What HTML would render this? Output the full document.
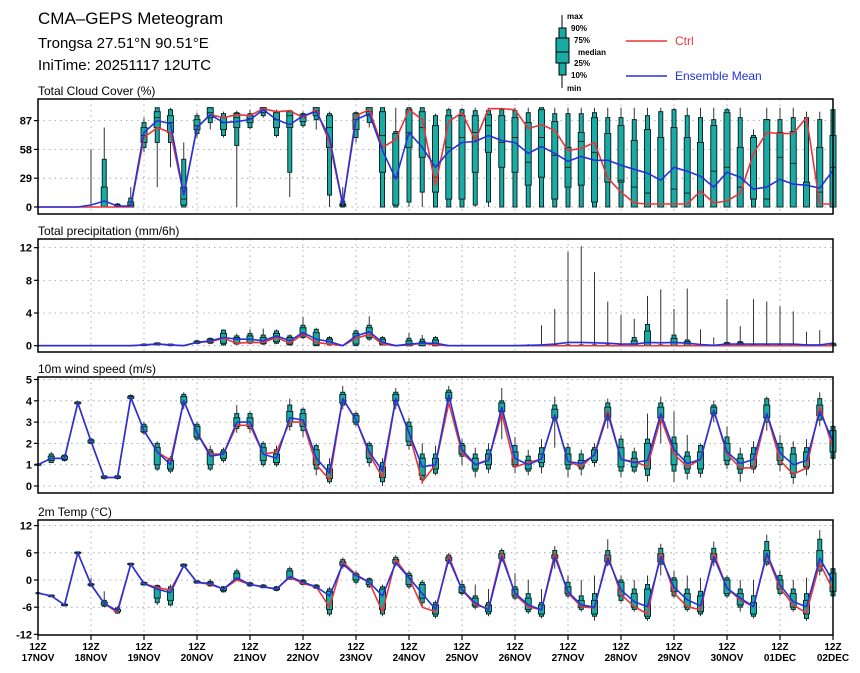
<!DOCTYPE html>
<html><head><meta charset="utf-8"><style>
html,body{margin:0;padding:0;background:#fff;}
svg{display:block;font-family:"Liberation Sans",sans-serif;}
</style></head><body>
<svg id="chart" width="860" height="673" viewBox="0 0 860 673" xmlns="http://www.w3.org/2000/svg">
<text x="38" y="24" font-size="17">CMA‒GEPS Meteogram</text>
<text x="38" y="48" font-size="15">Trongsa 27.51°N 90.51°E</text>
<text x="38" y="70" font-size="15">IniTime: 20251117 12UTC</text>
<g id="legend">
<line x1="562" y1="15" x2="562" y2="88" stroke="#000" stroke-width="1"/>
<rect x="559" y="28" width="7" height="47" fill="#1aaba5" stroke="#000" stroke-width="1"/>
<rect x="556" y="38" width="13" height="25" fill="#1aaba5" stroke="#000" stroke-width="1"/>
<line x1="556" y1="52" x2="569" y2="52" stroke="#000"/>
<g font-size="8" font-weight="bold">
<text x="567" y="19">max</text><text x="571" y="31">90%</text><text x="574" y="43">75%</text>
<text x="578" y="55">median</text><text x="574" y="66">25%</text><text x="571" y="78">10%</text><text x="567" y="91">min</text>
</g>
<line x1="626" y1="41" x2="667" y2="41" stroke="#e8363a" stroke-width="1.5"/>
<text x="675" y="45" font-size="12" fill="#e8363a">Ctrl</text>
<line x1="626" y1="76" x2="667" y2="76" stroke="#2233dd" stroke-width="1.5"/>
<text x="675" y="80" font-size="12" fill="#2233dd">Ensemble Mean</text>
</g>
</svg>
<script>
const days = ["17NOV","18NOV","19NOV","20NOV","21NOV","22NOV","23NOV","24NOV","25NOV","26NOV","27NOV","28NOV","29NOV","30NOV","01DEC","02DEC"];

const cloudMean = [0,0,0,0,2,6,1,1,75,87,84,12,80,93,85,86,88,98,88,83,92,96,70,2,88,94,57,28,75,60,40,56,65,66,72,67,65,54,61,54,46,51,47,47,42,38,34,27,40,36,31,20,35,30,18,20,28,23,22,19,37];
const cloudCtrl = [0,0,0,0,0,0,0,0,70,80,75,12,80,93,90,93,92,99,96,97,90,98,65,2,92,98,60,68,98,88,22,86,95,67,99,99,98,79,83,77,57,59,65,29,15,4,3,3,3,3,16,4,6,14,54,75,74,74,90,3,3];
const cloudMin = [0,0,0,0,0,0,0,0,55,20,40,0,70,78,70,0,78,90,70,10,80,78,0,0,65,80,0,0,0,0,0,0,0,0,0,0,0,0,0,0,0,0,0,0,0,0,0,0,0,0,0,0,0,0,0,0,0,0,0,0,0];
const cloudP10 = [0,0,0,0,0,0,0,0,60,65,65,0,74,85,72,62,80,92,72,35,82,88,12,0,70,85,0,0,5,15,0,0,0,2,5,0,0,0,0,0,0,0,0,0,0,0,0,0,0,0,0,0,0,0,0,0,0,0,0,0,0];
const cloudP25 = [0,0,0,0,0,0,0,0,65,80,75,2,78,90,78,80,85,95,80,80,86,92,60,1,78,92,35,2,60,50,15,8,8,35,55,40,35,22,30,8,20,22,5,25,25,0,0,0,0,0,0,0,0,0,8,0,0,0,0,0,0];
const cloudMed = [0,0,0,0,0,0,1,2,72,90,85,8,82,95,85,90,89,98,88,92,90,97,80,2,88,96,72,30,75,80,30,60,70,75,82,65,70,45,70,52,40,66,55,47,27,20,14,3,18,14,0,36,40,20,8,8,50,44,0,15,40];
const cloudP75 = [0,0,0,0,0,20,2,5,80,96,92,20,88,100,90,94,92,100,95,96,93,100,92,3,94,100,96,74,98,96,82,92,92,92,93,92,90,85,98,86,60,75,90,74,82,67,78,70,80,70,65,82,95,60,70,88,75,76,25,60,72];
const cloudP90 = [0,0,0,0,0,48,3,9,85,100,98,48,92,100,94,95,94,100,96,97,94,100,94,6,95,100,100,76,100,100,92,98,98,97,97,98,97,95,100,94,94,94,95,90,90,88,92,96,98,92,90,88,98,90,72,88,88,90,90,88,98];
const cloudMax = [0,0,0,0,58,80,4,20,90,100,100,65,95,100,96,97,98,100,98,98,96,100,96,20,96,100,100,100,100,100,94,100,100,100,100,100,100,100,100,100,100,100,100,100,100,100,100,100,100,100,100,100,100,100,78,100,100,100,96,96,100];

const precipMean = [0,0,0,0,0,0,0,0,0.1,0.2,0.1,0,0.4,0.6,1.0,0.8,0.8,0.6,1.2,0.6,1.6,0.8,0.5,0,1.2,1.7,0.4,0,0.2,0.3,0.3,0,0,0,0,0,0,0.05,0.1,0.2,0.4,0.4,0.35,0.3,0.2,0.2,0.4,0.35,0.4,0.3,0.15,0.05,0.2,0.2,0.2,0.2,0.2,0.2,0.1,0.1,0.3];
const precipCtrl = [0,0,0,0,0,0,0,0,0.1,0.2,0.1,0,0.4,0.5,0.9,0.3,0.4,0.4,1.0,0.3,1.4,0.4,0.2,0,0.9,1.4,0.2,0,0.1,0.3,0.1,0,0,0,0,0,0,0,0,0,0,0,0,0,0,0,0,0,0,0,0,0,0,0,0,0,0,0,0,0,0];
const precipMin = [0,0,0,0,0,0,0,0,0,0,0,0,0.2,0.2,0,0.1,0.2,0.1,0.2,0,0.8,0,0,0,0,0.6,0,0,0,0,0,0,0,0,0,0,0,0,0,0,0,0,0,0,0,0,0,0,0,0,0,0,0,0,0,0,0,0,0,0,0];
const precipP10 = [0,0,0,0,0,0,0,0,0,0.1,0,0,0.3,0.3,0.1,0.2,0.3,0.2,0.3,0.1,1.0,0,0.1,0,0,0.8,0.1,0,0,0,0,0,0,0,0,0,0,0,0,0,0,0,0,0,0,0,0,0,0,0,0,0,0,0,0,0,0,0,0,0,0];
const precipP25 = [0,0,0,0,0,0,0,0,0.05,0.15,0.05,0,0.3,0.4,0.3,0.3,0.4,0.3,0.5,0.2,1.2,0.1,0.2,0,0.2,1.0,0.2,0,0,0,0,0,0,0,0,0,0,0,0,0,0,0,0,0,0,0,0,0,0,0,0,0,0,0,0,0,0,0,0,0,0];
const precipP75 = [0,0,0,0,0,0,0,0,0.15,0.3,0.15,0,0.5,0.8,1.5,1.0,1.2,1.0,1.5,1.0,2.2,1.6,0.8,0,1.5,2.2,0.8,0,0.6,0.5,0.7,0,0,0,0,0,0,0,0.05,0.05,0.05,0.05,0.05,0.05,0.05,0.6,1.8,0.05,0.9,0.5,0.05,0,0.3,0.35,0.05,0.05,0.05,0.15,0.05,0.05,0.2];
const precipP90 = [0,0,0,0,0,0,0,0,0.2,0.35,0.2,0,0.6,0.9,1.9,1.2,1.5,1.3,1.8,1.2,2.5,2.0,1.0,0,1.8,2.5,1.0,0,0.9,0.8,1.0,0,0,0,0,0,0,0,0.1,0.1,0.1,0.1,0.1,0.1,0.1,1.0,2.6,0.1,1.3,0.7,0.1,0,0.4,0.5,0.1,0.1,0.1,0.2,0.1,0.1,0.3];
const precipMax = [0,0,0,0,0,0,0,0,0.3,0.4,0.2,0,0.7,1.0,2.0,1.5,2.0,2.1,2.0,1.4,3.5,2.2,1.2,0,2.0,3.6,1.2,0,1.6,1.3,1.2,0,0,0,0,0,0,0.2,2.5,4.5,11.5,12.2,9.0,5.4,3.8,3.3,6.1,6.9,4.5,7.0,2.0,1.0,5.7,2.4,5.7,5.4,4.8,4.2,1.7,1.9,1.0];

const windMean = [1.0,1.3,1.3,3.9,2.1,0.4,0.4,4.15,2.6,1.6,1.0,4.0,2.5,1.4,1.5,3.0,3.0,1.5,1.3,3.2,3.1,1.3,0.6,4.1,3.1,1.6,0.7,4.1,2.5,0.9,1.0,4.27,1.7,1.0,1.2,3.7,1.3,1.0,1.27,3.33,1.15,1.05,1.45,3.4,1.25,1.1,1.2,3.4,1.7,1.05,1.25,3.55,1.6,1.05,1.25,3.4,1.55,1.0,1.2,3.5,2.1];
const windCtrl = [1.0,1.3,1.3,3.9,2.1,0.4,0.4,4.15,2.6,1.6,1.2,4.0,2.5,1.5,1.5,2.85,2.85,1.5,1.6,3.0,3.0,1.0,0.3,4.1,3.1,1.5,0.4,4.1,2.5,0.2,1.0,3.9,1.55,1.0,1.25,3.4,0.9,1.1,1.27,3.33,1.15,0.9,1.5,3.55,1.25,1.15,0.9,3.2,1.5,0.9,1.25,3.55,1.5,0.85,0.85,3.4,1.2,0.55,0.85,3.7,1.8];
const windMin = [0.95,1.1,1.15,3.8,2.0,0.3,0.3,4.05,2.4,0.7,0.6,3.6,2.1,0.7,1.1,2.5,2.5,0.9,0.9,2.6,2.3,0.5,0.1,3.6,2.8,0.9,0.0,3.6,1.7,0.1,0.5,3.8,1.0,0.4,0.6,2.2,0.6,0.5,0.6,1.8,0.4,0.5,0.9,2.7,0.4,0.6,0.2,2.0,0.2,0.3,0.4,3.0,0.8,0.2,0.6,2.6,0.7,0.1,0.5,2.8,0.9];
const windP10 = [0.97,1.1,1.2,3.85,2.0,0.35,0.35,4.1,2.5,0.8,0.7,3.8,2.2,0.8,1.2,2.7,2.7,1.0,1.0,2.8,2.6,0.8,0.2,3.8,2.9,1.1,0.2,3.8,1.9,0.3,0.6,4.0,1.4,0.7,0.8,3.2,0.9,0.7,0.9,3.1,0.8,0.8,1.1,3.1,0.7,0.7,0.5,3.0,0.7,0.6,0.6,3.3,1.0,0.6,0.8,3.0,1.0,0.4,0.8,3.1,1.3];
const windP25 = [0.98,1.2,1.25,3.87,2.05,0.38,0.38,4.12,2.55,1.0,0.8,3.9,2.3,1.0,1.3,2.8,2.8,1.2,1.1,3.0,2.8,1.0,0.35,3.9,3.0,1.3,0.4,4.0,2.1,0.5,0.8,4.1,1.5,0.8,1.0,3.5,1.0,0.8,1.1,3.2,1.0,0.9,1.2,3.2,0.9,0.9,0.8,3.2,1.0,0.8,0.8,3.4,1.2,0.8,0.9,3.2,1.2,0.6,0.9,3.3,1.6];
const windP75 = [1.02,1.4,1.4,3.93,2.15,0.45,0.45,4.2,2.8,1.8,1.2,4.2,2.8,1.6,1.6,3.2,3.2,1.8,1.5,3.5,3.4,1.7,0.8,4.3,3.3,1.9,0.9,4.3,2.8,1.3,1.3,4.4,1.9,1.3,1.5,3.9,1.6,1.2,1.5,3.6,1.5,1.2,1.7,3.7,1.8,1.3,2.0,3.7,2.0,1.4,1.6,3.7,2.0,1.3,1.5,3.8,1.8,1.5,1.6,3.8,2.6];
const windP90 = [1.03,1.5,1.45,3.95,2.2,0.48,0.48,4.25,2.9,2.0,1.3,4.3,2.9,1.7,1.7,3.4,3.4,2.0,1.7,3.8,3.6,1.9,1.0,4.4,3.4,2.0,1.1,4.4,3.0,1.5,1.5,4.5,2.0,1.5,1.7,4.0,1.9,1.4,1.8,3.8,1.8,1.5,1.8,3.9,2.2,1.6,2.2,3.9,2.3,1.6,1.9,3.8,2.3,1.5,1.8,4.1,2.0,1.8,1.8,4.1,2.8];
const windMax = [1.05,1.6,1.5,4.0,2.25,0.5,0.5,4.3,3.0,2.1,1.4,4.4,3.0,1.9,1.8,3.8,3.5,2.1,1.9,4.1,3.7,2.0,1.3,4.7,3.5,2.1,1.3,4.6,3.2,2.0,1.9,4.7,2.2,1.8,2.0,4.6,2.3,1.7,2.2,4.2,2.0,1.7,2.0,4.1,2.4,1.8,3.4,4.2,3.5,2.4,2.0,4.0,2.8,1.8,2.1,4.2,2.4,2.1,2.2,4.4,2.9];

const tempMean = [-2.9,-3.5,-5.5,6,-1,-5.2,-6.8,3.5,-0.8,-2,-2.8,3.2,-0.5,-0.8,-2,0.5,-1,-1.5,-2,0.8,-0.5,-1.5,-3.5,3.5,1,-0.5,-3.5,3.8,0.5,-3,-6.5,4.6,-2.1,-5.1,-6.6,5.1,-2.9,-5.5,-6.6,5.1,-2.6,-5.5,-6,4.8,-2.2,-4.8,-5.9,5.1,-1.6,-4.4,-5.7,5.1,-1.8,-4,-5.9,5.9,-1.1,-4.8,-5.9,4.8,-0.4];
const tempCtrl = [-2.9,-3.5,-5.5,6,-1,-5.2,-7.2,3.5,-0.8,-1.7,-2.2,3.2,-0.5,-1,-2,0,-1,-1.5,-2,0.6,-0.8,-1.5,-6,4,1.2,-0.5,-7,4.5,0.5,-6,-7,5.3,-2.2,-5.5,-6.3,5.9,-3.2,-5.9,-6.6,5.9,-2.9,-5.9,-6.2,5.5,-3.2,-5.9,-7.5,5.9,-2.9,-5.9,-6.6,5.9,-1.8,-4.4,-5.9,5.5,-1.8,-5.5,-7.3,3.7,-2.2];
const tempMin = [-3.1,-3.8,-5.8,5.7,-1.5,-6,-7.5,3.2,-1.2,-5.5,-5.8,2.9,-0.8,-1.5,-2.8,-0.2,-1.5,-1.8,-2.5,0,-1.2,-2,-8,2.5,-1,-1.8,-8,3,-2,-6,-8.5,3.5,-3.5,-6.5,-8,4,-4.5,-7.5,-8.5,2.5,-4,-7,-9,3,-5,-7,-9,1,-4,-7,-8,3,-4,-7,-8.5,3,-3.5,-7,-9,1,-4];
const tempP10 = [-3,-3.7,-5.7,5.8,-1.3,-5.8,-7.3,3.3,-1.1,-5,-5.5,3,-0.7,-1.3,-2.6,0,-1.3,-1.7,-2.3,0.2,-1,-1.8,-7.5,3,-0.5,-1.5,-7.5,3.5,-1.5,-5,-8,4,-3,-6,-7.5,4.5,-4,-7,-8,4.5,-3.5,-6.5,-8,3.5,-4.5,-6.5,-8.5,3.5,-3.5,-6.5,-7.5,4,-3.5,-6,-8,3.5,-3,-6.5,-8.5,2,-3.5];
const tempP25 = [-2.95,-3.6,-5.6,5.9,-1.1,-5.5,-7,3.4,-1,-4,-4.5,3.1,-0.6,-1.1,-2.3,0.2,-1.1,-1.6,-2.1,0.4,-0.8,-1.6,-6.5,3.3,0,-1,-6.5,3.7,-1,-4,-7.5,4.3,-2.8,-5.7,-7,4.8,-3.5,-6.5,-7.5,4.8,-3,-6,-7.5,4,-3.5,-6,-8,4,-2.5,-6,-7,4.5,-3,-5.5,-7.5,4,-2,-6,-7.5,3,-2.5];
const tempP75 = [-2.85,-3.4,-5.4,6.1,-0.9,-4.9,-6.5,3.6,-0.6,-1.5,-2,3.4,-0.3,-0.5,-1.7,1.5,-0.8,-1.3,-1.7,2,-0.2,-1.3,-2.5,4,1.2,0,-2,4.5,1,-1,-5.5,5,-1.5,-4,-5.5,5.8,-2,-4,-5.5,5.5,-1.5,-4.5,-4.5,5.5,-0.5,-3,-2,5.8,0,-3,-3.5,5.8,0,-3,-5,6.5,0,-3,-4.5,6.5,1.5];
const tempP90 = [-2.8,-3.3,-5.3,6.2,-0.8,-4.5,-6.2,3.7,-0.5,-1.2,-1.5,3.5,-0.2,-0.3,-1.5,2,-0.6,-1.1,-1.5,2.5,0,-1.1,-2,4.5,1.5,0.3,-1.5,5,1.5,-0.5,-5,5.5,-1,-3.5,-5,6.5,-1.5,-3,-5,6.5,-0.5,-3.5,-3,6.5,0,-2,-1,7,0.5,-2,-2.5,7,0.5,-2,-3.5,8.5,1,-2,-3,9,2.5];
const tempMax = [-2.7,-3.2,-5.2,6.3,0.5,-2.5,-5.8,3.8,-0.4,-1,-1,3.7,0,0.2,-1.3,2.5,-0.4,-0.9,-1.3,3,0.2,-0.9,-1.5,5,2,0.6,-1,5.5,2,0,-4.5,6,0,-1,-2,7,1.5,0,-2,7.5,1,0,1,9,1,0,1,8,2,1,0.5,8.5,1,0,0,10,2,0,0.5,11,3];

const cloudTicks = [0,29,58,87];
const precipTicks = [0,4,8,12];
const windTicks = [0,1,2,3,4,5];
const tempTicks = [-12,-6,0,6,12];

const NS = "http://www.w3.org/2000/svg";
const svg = document.getElementById('chart');
const X0 = 38, X1 = 833;
const xOf = i => X0 + (X1 - X0) * i / 60;
function mk(tag, attrs, parent) {
  const e = document.createElementNS(NS, tag);
  for (const k in attrs) e.setAttribute(k, attrs[k]);
  (parent || svg).appendChild(e);
  return e;
}
function panel(cfg) {
  const g = mk('g', {});
  
  
  const yOf = v => cfg.y0 - (v - cfg.v0) * cfg.k;
  const title = mk('text', {x: 38, y: cfg.top - 4, 'font-size': 12}, g);
  title.textContent = cfg.title;
  
  
  for (let d = 1; d < 15; d++) {
    const gl = mk('line', {x1: xOf(d*4), x2: xOf(d*4), y1: cfg.top, y2: cfg.bot, stroke: '#999', 'stroke-width': 0.8, 'stroke-dasharray': '1.5,4'}, g);
    
    
  }
  cfg.ticks.forEach(t => {
    const y = yOf(t);
    if (y > cfg.top + 2 && y < cfg.bot - 2) {
      const hl = mk('line', {x1: X0, x2: X1, y1: y, y2: y, stroke: '#999', 'stroke-width': 0.8, 'stroke-dasharray': '1.5,4'}, g);
      
      
    }
    mk('line', {x1: X0 - 4, x2: X0, y1: y, y2: y, stroke: '#000', 'stroke-width': 1.2}, g);
    const tl = mk('text', {x: X0 - 6, y: y + 4, 'font-size': 11, 'font-weight': 'bold', 'text-anchor': 'end'}, g);
    tl.textContent = t;
    
    
  });
  const clamp = v => Math.max(cfg.top, Math.min(cfg.bot, yOf(v)));
  for (let i = 0; i < 61; i++) {
    const x = xOf(i);
    const bx = mk('g', {}, g);
    
    
    const mn = clamp(cfg.min[i]), mx = clamp(cfg.max[i]);
    if (mn - mx > 0.3) mk('line', {x1: x, x2: x, y1: mn, y2: mx, stroke: '#333', 'stroke-width': 1}, bx);
    const a = yOf(cfg.p90[i]), b = yOf(cfg.p10[i]);
    if (b - a > 0.5) mk('rect', {x: x - 2, y: a, width: 4, height: b - a, fill: '#1aaba5', stroke: '#0c2a28', 'stroke-width': 1}, bx);
    const c = yOf(cfg.p75[i]), d = yOf(cfg.p25[i]);
    if (d - c > 0.5) mk('rect', {x: x - 3, y: c, width: 6, height: d - c, fill: '#1aaba5', stroke: '#0c2a28', 'stroke-width': 1}, bx);
    if (cfg.med && d - c > 0.5) mk('line', {x1: x - 3, x2: x + 3, y1: yOf(cfg.med[i]), y2: yOf(cfg.med[i]), stroke: '#0c2a28', 'stroke-width': 1}, bx);
  }
  const line = (arr, col, nm) => {
    const p = mk('polyline', {points: arr.map((v, i) => xOf(i).toFixed(1) + ',' + yOf(v).toFixed(1)).join(' '), fill: 'none', stroke: col, 'stroke-width': 1.6, 'stroke-linejoin': 'round'}, g);
    
    
  };
  line(cfg.ctrl, '#e8363a', cfg.name + '-ctrl-line');
  line(cfg.mean, '#2233dd', cfg.name + '-mean-line');
  const fr = mk('rect', {x: X0, y: cfg.top, width: X1 - X0, height: cfg.bot - cfg.top, fill: 'none', stroke: '#000', 'stroke-width': 1.5}, g);
  
  
  return g;
}
panel({name: 'cloud', title: 'Total Cloud Cover (%)', top: 99, bot: 214, y0: 207, v0: 0, k: 0.993, ticks: cloudTicks,
  min: cloudMin, p10: cloudP10, p25: cloudP25, med: cloudMed, p75: cloudP75, p90: cloudP90, max: cloudMax, ctrl: cloudCtrl, mean: cloudMean});
panel({name: 'precip', title: 'Total precipitation (mm/6h)', top: 239, bot: 352, y0: 345.7, v0: 0, k: 8.17, ticks: precipTicks,
  min: precipMin, p10: precipP10, p25: precipP25, p75: precipP75, p90: precipP90, max: precipMax, ctrl: precipCtrl, mean: precipMean});
panel({name: 'wind', title: '10m wind speed (m/s)', top: 377, bot: 493, y0: 486, v0: 0, k: 21.3, ticks: windTicks,
  min: windMin, p10: windP10, p25: windP25, p75: windP75, p90: windP90, max: windMax, ctrl: windCtrl, mean: windMean});
panel({name: 'temp', title: '2m Temp (°C)', top: 520, bot: 635, y0: 580, v0: 0, k: 4.53, ticks: tempTicks,
  min: tempMin, p10: tempP10, p25: tempP25, p75: tempP75, p90: tempP90, max: tempMax, ctrl: tempCtrl, mean: tempMean});
days.forEach((dname, d) => {
  const x = xOf(d * 4);
  mk('line', {x1: x, x2: x, y1: 635, y2: 640, stroke: '#000', 'stroke-width': 1.2});
  const t1 = mk('text', {x: x, y: 650, 'font-size': 10, 'font-weight': 'bold', 'text-anchor': 'middle'});
  t1.textContent = '12Z';
  
  
  const t2 = mk('text', {x: x, y: 661, 'font-size': 10, 'font-weight': 'bold', 'text-anchor': 'middle'});
  t2.textContent = dname;
  
  
});
</script>
</body></html>
